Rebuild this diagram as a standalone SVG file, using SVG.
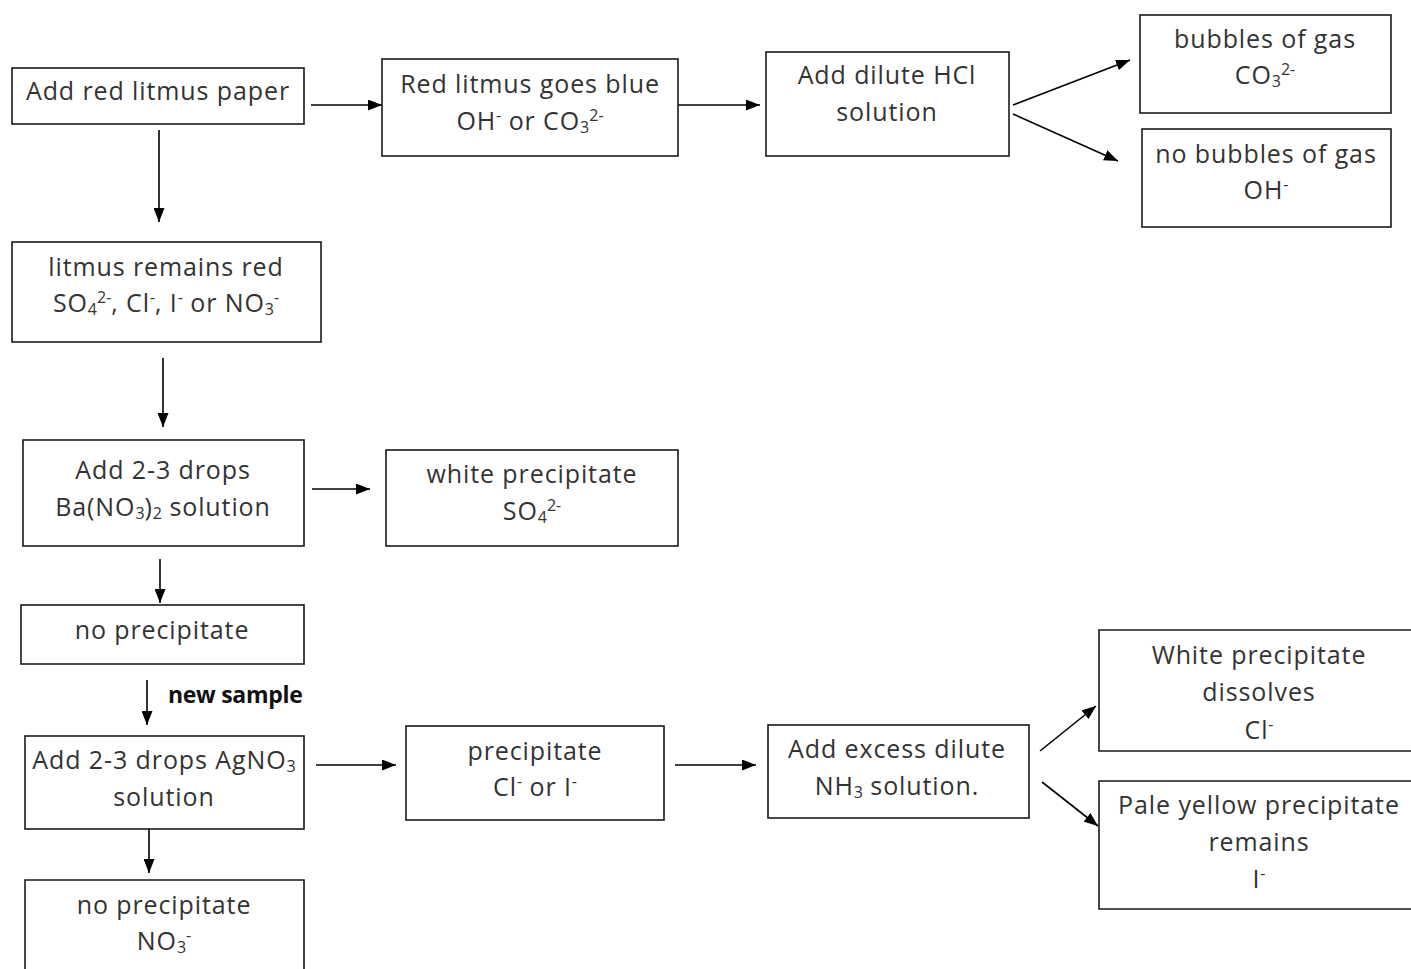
<svg xmlns="http://www.w3.org/2000/svg" width="1411" height="969" viewBox="0 0 1411 969">
<defs>
<marker id="ah" markerWidth="14" markerHeight="11" refX="14" refY="5.5" orient="auto" markerUnits="userSpaceOnUse">
<path d="M0,0 L14,5.5 L0,11 Z" fill="#000"/>
</marker>
<style>
.box{fill:#fff;stroke:#1a1a1a;stroke-width:1.6}
.t{font-family:"Open Sans","Liberation Sans",sans-serif;font-size:25px;letter-spacing:0.9px;fill:#333;text-anchor:middle}
.s{font-size:16px;letter-spacing:0}
.c{stroke:#000;stroke-width:1.6;fill:none;marker-end:url(#ah)}
.lbl{font-family:"Open Sans","Liberation Sans",sans-serif;font-size:23px;font-weight:bold;fill:#111;letter-spacing:-0.3px}
</style>
</defs>
<rect width="1411" height="969" fill="#fff"/>
<g id="connectors">
<line class="c" x1="311" y1="105" x2="382" y2="105"/>
<line class="c" x1="678" y1="105" x2="760" y2="105"/>
<line class="c" x1="1013" y1="105" x2="1130" y2="60"/>
<line class="c" x1="1013" y1="114" x2="1118" y2="161"/>
<line class="c" x1="159" y1="130" x2="159" y2="222"/>
<line class="c" x1="163" y1="358" x2="163" y2="427"/>
<line class="c" x1="312" y1="489" x2="370" y2="489"/>
<line class="c" x1="160" y1="559" x2="160" y2="603"/>
<line class="c" x1="147" y1="680" x2="147" y2="725"/>
<line class="c" x1="316" y1="765" x2="396" y2="765"/>
<line class="c" x1="149" y1="829" x2="149" y2="873"/>
<line class="c" x1="675" y1="765" x2="756" y2="765"/>
<line class="c" x1="1040" y1="751" x2="1096" y2="706"/>
<line class="c" x1="1042" y1="782" x2="1098" y2="826"/>
<text class="lbl" x="168" y="703">new sample</text>
</g>
<g id="n1"><rect class="box" x="12" y="68" width="292" height="56"/>
<text class="t" x="158" y="100">Add red litmus paper</text></g>
<g id="n2"><rect class="box" x="382" y="59" width="296" height="97"/>
<text class="t" x="530" y="93">Red litmus goes blue</text>
<text class="t" x="530" y="130">OH<tspan class="s" baseline-shift="9">-</tspan> or CO<tspan class="s" baseline-shift="-3">3</tspan><tspan class="s" baseline-shift="9">2-</tspan></text></g>
<g id="n3"><rect class="box" x="766" y="52" width="243" height="104"/>
<text class="t" x="887" y="84">Add dilute HCl</text>
<text class="t" x="887" y="121">solution</text></g>
<g id="n4"><rect class="box" x="1140" y="15" width="251" height="98"/>
<text class="t" x="1265" y="48">bubbles of gas</text>
<text class="t" x="1265" y="84">CO<tspan class="s" baseline-shift="-3">3</tspan><tspan class="s" baseline-shift="9">2-</tspan></text></g>
<g id="n5"><rect class="box" x="1142" y="129" width="249" height="98"/>
<text class="t" x="1266" y="163">no bubbles of gas</text>
<text class="t" x="1266" y="199">OH<tspan class="s" baseline-shift="9">-</tspan></text></g>
<g id="n6"><rect class="box" x="12" y="242" width="309" height="100"/>
<text class="t" x="166" y="276">litmus remains red</text>
<text class="t" x="166" y="312">SO<tspan class="s" baseline-shift="-3">4</tspan><tspan class="s" baseline-shift="9">2-</tspan>, Cl<tspan class="s" baseline-shift="9">-</tspan>, I<tspan class="s" baseline-shift="9">-</tspan> or NO<tspan class="s" baseline-shift="-3">3</tspan><tspan class="s" baseline-shift="9">-</tspan></text></g>
<g id="n7"><rect class="box" x="23" y="440" width="281" height="106"/>
<text class="t" x="163" y="479">Add 2-3 drops</text>
<text class="t" x="163" y="516">Ba(NO<tspan class="s" baseline-shift="-3">3</tspan>)<tspan class="s" baseline-shift="-3">2</tspan> solution</text></g>
<g id="n8"><rect class="box" x="386" y="450" width="292" height="96"/>
<text class="t" x="532" y="483">white precipitate</text>
<text class="t" x="532" y="520">SO<tspan class="s" baseline-shift="-3">4</tspan><tspan class="s" baseline-shift="9">2-</tspan></text></g>
<g id="n9"><rect class="box" x="21" y="605" width="283" height="59"/>
<text class="t" x="162" y="639">no precipitate</text></g>
<g id="n10"><rect class="box" x="25" y="736" width="279" height="93"/>
<text class="t" x="164" y="769">Add 2-3 drops AgNO<tspan class="s" baseline-shift="-3">3</tspan></text>
<text class="t" x="164" y="806">solution</text></g>
<g id="n11"><path class="box" d="M25,969 V880 H304 V969"/>
<text class="t" x="164" y="914">no precipitate</text>
<text class="t" x="164" y="950">NO<tspan class="s" baseline-shift="-3">3</tspan><tspan class="s" baseline-shift="9">-</tspan></text></g>
<g id="n12"><rect class="box" x="406" y="726" width="258" height="94"/>
<text class="t" x="535" y="760">precipitate</text>
<text class="t" x="535" y="796">Cl<tspan class="s" baseline-shift="9">-</tspan> or I<tspan class="s" baseline-shift="9">-</tspan></text></g>
<g id="n13"><rect class="box" x="768" y="725" width="261" height="93"/>
<text class="t" x="897" y="758">Add excess dilute</text>
<text class="t" x="897" y="795">NH<tspan class="s" baseline-shift="-3">3</tspan> solution.</text></g>
<g id="n14"><path class="box" d="M1411,630 H1099 V751 H1411"/>
<text class="t" x="1259" y="664">White precipitate</text>
<text class="t" x="1259" y="701">dissolves</text>
<text class="t" x="1259" y="739">Cl<tspan class="s" baseline-shift="9">-</tspan></text></g>
<g id="n15"><path class="box" d="M1411,781 H1099 V909 H1411"/>
<text class="t" x="1259" y="814">Pale yellow precipitate</text>
<text class="t" x="1259" y="851">remains</text>
<text class="t" x="1259" y="888">I<tspan class="s" baseline-shift="9">-</tspan></text></g>
</svg>
